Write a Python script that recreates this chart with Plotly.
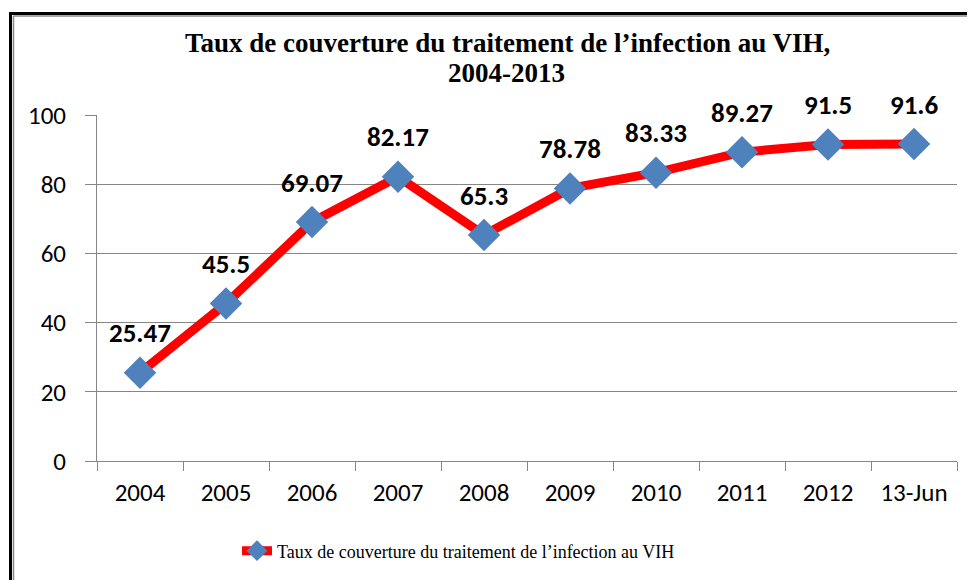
import plotly.graph_objects as go

categories = ["2004", "2005", "2006", "2007", "2008", "2009", "2010", "2011", "2012", "13-Jun"]
values = [25.47, 45.5, 69.07, 82.17, 65.3, 78.78, 83.33, 89.27, 91.5, 91.6]
series_name = "Taux de couverture du traitement de l\u2019infection au VIH"
title_lines = ["Taux de couverture du traitement de l\u2019infection au VIH,", "2004-2013"]
y_ticks = [0, 20, 40, 60, 80, 100]

O = 8  # page body offset
W, H = 975 - 2 * O, 580 - O
# target pixel positions (in screenshot coords)
PL, PR, PT, PB = 97, 957, 115, 461
ML, MR, MT, MB = PL - O, W - (PR - O), PT - O, H - (PB - O)
PW = W - ML - MR
PH = H - MT - MB

def px_x(p):
    return (p - O - ML) / PW

def px_y(p):
    return (H - MB - (p - O)) / PH

sans = "Carlito, Lato, sans-serif"
serif = "Liberation Serif, Times New Roman, serif"

fig = go.Figure()
fig.add_trace(go.Scatter(
    x=categories, y=values, mode="lines+markers", name=series_name,
    line=dict(color="#FF0000", width=9),
    marker=dict(symbol="diamond", size=25, color="#4F81BD", line=dict(width=0)),
))

for i, v in enumerate(values):
    fig.add_annotation(x=i, y=v, text=f"<b>{v}</b>", showarrow=False,
                       yshift=40, font=dict(family=sans, size=27, color="#000"))

# title lines
fig.add_annotation(x=px_x(507), y=px_y(43), xref="paper", yref="paper", showarrow=False,
                   text=f"<b>{title_lines[0]}</b>", xanchor="center", yanchor="middle",
                   font=dict(family=serif, size=27, color="#000"))
fig.add_annotation(x=px_x(506), y=px_y(73), xref="paper", yref="paper", showarrow=False,
                   text=f"<b>{title_lines[1]}</b>", xanchor="center", yanchor="middle",
                   font=dict(family=serif, size=27, color="#000"))

# border (top and left edges only are visible)
fig.add_shape(type="line", xref="paper", yref="paper",
              x0=px_x(9), x1=px_x(990), y0=px_y(13.5), y1=px_y(13.5),
              line=dict(color="#000", width=3), layer="below")
fig.add_shape(type="line", xref="paper", yref="paper",
              x0=px_x(10.5), x1=px_x(10.5), y0=px_y(12), y1=px_y(600),
              line=dict(color="#000", width=3), layer="below")
fig.add_shape(type="line", xref="paper", yref="paper",
              x0=px_x(13.5), x1=px_x(990), y0=px_y(16), y1=px_y(16),
              line=dict(color="#888", width=1.5), layer="below")
fig.add_shape(type="line", xref="paper", yref="paper",
              x0=px_x(13.5), x1=px_x(13.5), y0=px_y(16), y1=px_y(600),
              line=dict(color="#888", width=1.5), layer="below")

fig.update_layout(
    width=W, height=H,
    margin=dict(l=ML, r=MR, t=MT, b=MB),
    paper_bgcolor="white", plot_bgcolor="white",
    showlegend=True,
    legend=dict(orientation="h", x=px_x(237), xanchor="left", y=px_y(551), yanchor="middle",
                font=dict(family=serif, size=18, color="#000"), bgcolor="rgba(0,0,0,0)"),
    xaxis=dict(type="category", showgrid=False, showline=True, linecolor="#868686", linewidth=1,
               ticks="outside", tickson="boundaries", ticklen=9, tickcolor="#868686",
               tickfont=dict(family=sans, size=25, color="#000"), range=[-0.5, 9.5],
               ticklabelstandoff=9, automargin=False),
    yaxis=dict(range=[0, 100], tickvals=y_ticks, showgrid=True, gridcolor="#868686", gridwidth=1,
               showline=True, linecolor="#868686", linewidth=1, zeroline=False,
               ticks="outside", ticklen=11, tickcolor="#868686",
               tickfont=dict(family=sans, size=25, color="#000"), ticklabelstandoff=14,
               automargin=False),
)

fig.write_html("out.html")
